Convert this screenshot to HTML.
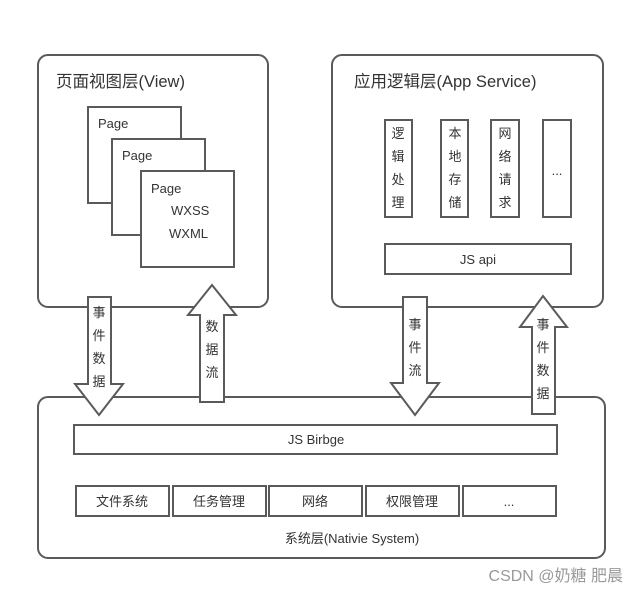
<!DOCTYPE html>
<html><head><meta charset="utf-8"><style>
html,body{margin:0;padding:0;background:#fff}
svg{display:block}
text{font-family:"Liberation Sans","Noto Sans CJK SC",sans-serif;fill:#333;font-size:13px}
</style></head><body>
<svg width="640" height="593" viewBox="0 0 640 593" xmlns="http://www.w3.org/2000/svg">
<g fill="#fff" stroke="#5a5a5a" stroke-width="2">
<rect x="38" y="55" width="230" height="252" rx="10"/>
<rect x="332" y="55" width="271" height="252" rx="10"/>
<rect x="38" y="397" width="567" height="161" rx="10"/>
<rect x="88" y="107" width="93" height="96"/>
<rect x="112" y="139" width="93" height="96"/>
<rect x="141" y="171" width="93" height="96"/>
<rect x="385" y="120" width="27" height="97"/>
<rect x="441" y="120" width="27" height="97"/>
<rect x="491" y="120" width="28" height="97"/>
<rect x="543" y="120" width="28" height="97"/>
<rect x="385" y="244" width="186" height="30"/>
<rect x="74" y="425" width="483" height="29"/>
<rect x="76" y="486" width="93" height="30"/>
<rect x="173" y="486" width="93" height="30"/>
<rect x="269" y="486" width="93" height="30"/>
<rect x="366" y="486" width="93" height="30"/>
<rect x="463" y="486" width="93" height="30"/>
<polygon points="88,297 111,297 111,384 123,384 99,415 75,384 88,384"/>
<polygon points="200,402 224,402 224,315 236,315 212,285 188,315 200,315"/>
<polygon points="403,297 427,297 427,383 439,383 415,415 391,383 403,383"/>
<polygon points="532,414 555,414 555,327 567,327 543,296 520,327 532,327"/>
</g>
<text x="56" y="87" style="font-size:16.5px">页面视图层(View)</text>
<text x="354" y="87" style="font-size:16.5px">应用逻辑层(App Service)</text>
<text x="98" y="128">Page</text>
<text x="122" y="160">Page</text>
<text x="151" y="193">Page</text>
<text x="171" y="215">WXSS</text>
<text x="169" y="238">WXML</text>
<g text-anchor="middle">
<text x="398" y="138">逻</text><text x="398" y="161">辑</text><text x="398" y="184">处</text><text x="398" y="207">理</text>
<text x="455" y="138">本</text><text x="455" y="161">地</text><text x="455" y="184">存</text><text x="455" y="207">储</text>
<text x="505" y="138">网</text><text x="505" y="161">络</text><text x="505" y="184">请</text><text x="505" y="207">求</text>
<text x="557" y="175">...</text>
<text x="478" y="264">JS api</text>
<text x="99" y="317">事</text><text x="99" y="340">件</text><text x="99" y="363">数</text><text x="99" y="386">据</text>
<text x="212" y="331">数</text><text x="212" y="354">据</text><text x="212" y="377">流</text>
<text x="415" y="329">事</text><text x="415" y="352">件</text><text x="415" y="375">流</text>
<text x="543" y="329">事</text><text x="543" y="352">件</text><text x="543" y="375">数</text><text x="543" y="398">据</text>
<text x="316" y="444">JS Birbge</text>
<text x="122" y="506">文件系统</text>
<text x="219" y="506">任务管理</text>
<text x="315" y="506">网络</text>
<text x="412" y="506">权限管理</text>
<text x="509" y="506">...</text>
<text x="352" y="543">系统层(Nativie System)</text>
</g>
<text x="623" y="581" text-anchor="end" style="font-size:16px;fill:#999">CSDN @奶糖 肥晨</text>
</svg>
</body></html>
